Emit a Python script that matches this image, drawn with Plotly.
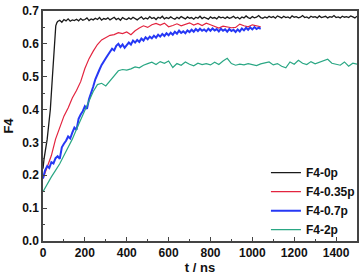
import plotly.graph_objects as go

# ---- data ----
black_t = [0, 5, 20, 35, 45, 55, 61, 66] + list(range(70, 1501, 10))
black_f = [0.22, 0.25, 0.31, 0.40, 0.50, 0.60, 0.655, 0.664,
           0.668, 0.672, 0.666, 0.674, 0.670, 0.676, 0.669, 0.673, 0.671,
           0.675, 0.670, 0.677, 0.672, 0.674, 0.679, 0.671, 0.676, 0.673, 0.678, 0.674, 0.680, 0.672, 0.677, 0.675,
           0.679, 0.673, 0.677, 0.681, 0.674, 0.678, 0.672, 0.680, 0.676, 0.674, 0.679, 0.675, 0.681, 0.677, 0.673,
           0.678, 0.682, 0.675, 0.679, 0.676, 0.683, 0.677, 0.680, 0.674, 0.681, 0.678, 0.684, 0.676, 0.680, 0.677,
           0.682, 0.678, 0.675, 0.681, 0.677, 0.683, 0.679, 0.676, 0.682, 0.678, 0.680, 0.675, 0.681, 0.678, 0.684,
           0.677, 0.681, 0.679, 0.675, 0.682, 0.678, 0.680, 0.676, 0.683, 0.679, 0.681, 0.677, 0.682, 0.678, 0.680,
           0.684, 0.678, 0.681, 0.676, 0.682, 0.679, 0.685, 0.680, 0.677, 0.683, 0.679, 0.681, 0.686, 0.680, 0.678,
           0.682, 0.679, 0.684, 0.680, 0.683, 0.678, 0.685, 0.681, 0.679, 0.684, 0.680, 0.682, 0.678, 0.685, 0.681,
           0.683, 0.679, 0.681, 0.686, 0.680, 0.682, 0.678, 0.684, 0.681, 0.683, 0.679, 0.685, 0.680, 0.682, 0.684,
           0.679, 0.683, 0.681, 0.686, 0.680, 0.682, 0.679, 0.684, 0.681, 0.683, 0.680, 0.685, 0.682, 0.679, 0.684]

red_t = list(range(0, 1041, 20))
red_f = [0.190, 0.225, 0.260, 0.310, 0.345, 0.380, 0.405, 0.435, 0.458, 0.485,
         0.525, 0.555, 0.578, 0.598, 0.612, 0.618, 0.626, 0.628, 0.634, 0.631,
         0.636, 0.628, 0.640, 0.648, 0.655, 0.650, 0.658, 0.662, 0.657, 0.663,
         0.652, 0.656, 0.661, 0.655, 0.660, 0.664, 0.657, 0.662, 0.656, 0.663,
         0.658, 0.652, 0.648, 0.654, 0.651, 0.649, 0.650, 0.660, 0.655, 0.652,
         0.658, 0.654, 0.652]

blue_t = list(range(0, 1041, 10))
blue_f = [0.190, 0.215, 0.228, 0.222, 0.240, 0.236, 0.252, 0.258, 0.250, 0.285,
          0.296, 0.305, 0.318, 0.312, 0.330, 0.345, 0.338, 0.372, 0.385, 0.395,
          0.410, 0.402, 0.432, 0.448, 0.470, 0.492, 0.510, 0.522, 0.536, 0.548,
          0.556, 0.566, 0.575, 0.585, 0.580, 0.594, 0.600, 0.590, 0.598, 0.588,
          0.596, 0.604, 0.598, 0.610, 0.604, 0.612, 0.606, 0.616, 0.610, 0.620,
          0.614, 0.622, 0.617, 0.625, 0.619, 0.628, 0.622, 0.630, 0.624, 0.632,
          0.626, 0.634, 0.628, 0.637, 0.631, 0.640, 0.633, 0.638, 0.632, 0.641,
          0.636, 0.643, 0.637, 0.645, 0.639, 0.646, 0.640, 0.644, 0.638, 0.646,
          0.640, 0.647, 0.641, 0.645, 0.638, 0.646, 0.640, 0.644, 0.637, 0.645,
          0.639, 0.643, 0.636, 0.644, 0.638, 0.647, 0.641, 0.649, 0.643, 0.650,
          0.644, 0.651, 0.645, 0.649, 0.646]

green_t = list(range(0, 1501, 20))
green_f = [0.150, 0.175, 0.195, 0.215, 0.235, 0.260, 0.285, 0.310, 0.340, 0.370,
           0.395, 0.430, 0.455, 0.476, 0.480, 0.472, 0.488, 0.502, 0.518, 0.522,
           0.520, 0.524, 0.530, 0.527, 0.535, 0.540, 0.544, 0.537, 0.546, 0.541,
           0.548, 0.528, 0.540, 0.535, 0.545, 0.538, 0.533, 0.541, 0.537, 0.540,
           0.536, 0.544, 0.537, 0.548, 0.556, 0.540, 0.535, 0.538, 0.536, 0.540,
           0.537, 0.534, 0.539, 0.541, 0.545, 0.536, 0.540, 0.532, 0.527, 0.545,
           0.538, 0.550, 0.541, 0.537, 0.546, 0.539, 0.543, 0.549, 0.553, 0.541,
           0.537, 0.535, 0.545, 0.532, 0.541, 0.538]

series = [
    ("F4-0p", black_t, black_f, "#1a1a1a", 1.3),
    ("F4-0.35p", red_t, red_f, "#e3243f", 1.2),
    ("F4-0.7p", blue_t, blue_f, "#2638f5", 2.0),
    ("F4-2p", green_t, green_f, "#2aa784", 1.2),
]

FONT = "Liberation Sans, Arial, sans-serif"

fig = go.Figure()
for name, t, f, color, w in series:
    fig.add_trace(go.Scatter(x=t, y=f, mode="lines", name=name,
                             line=dict(color=color, width=w)))

axis_common = dict(
    showline=True, linecolor="#444", linewidth=1.5, mirror=True,
    ticks="inside", ticklen=4, tickwidth=1.2, tickcolor="#444",
    showgrid=False, zeroline=False,
    tickfont=dict(family=FONT, size=12, color="#111", weight="bold"),
)

fig.update_xaxes(range=[0, 1500], tick0=0, dtick=200,
                 minor=dict(ticks="inside", dtick=100, ticklen=2.5, tickcolor="#444"),
                 title=dict(text="t / ns", standoff=4,
                            font=dict(family=FONT, size=13, color="#111", weight="bold")),
                 **axis_common)
fig.update_yaxes(range=[0, 0.7], tick0=0, dtick=0.1, tickformat=".1f",
                 minor=dict(ticks="inside", dtick=0.05, ticklen=2.5, tickcolor="#444"),
                 title=dict(text="F4", standoff=6,
                            font=dict(family=FONT, size=13, color="#111", weight="bold")),
                 **axis_common)

fig.update_layout(
    width=364, height=277,
    margin=dict(l=43, r=4, t=7, b=35),
    paper_bgcolor="white", plot_bgcolor="white",
    showlegend=True,
    legend=dict(x=0.71, y=0.36, xanchor="left", yanchor="top",
                bgcolor="rgba(0,0,0,0)",
                font=dict(family=FONT, size=12, color="#111", weight="bold"),
                tracegroupgap=0, itemwidth=30),
)

fig.write_html("out.html",
               config={"displayModeBar": False},
               post_script="document.body.style.margin='0';document.body.style.overflow='hidden';")
